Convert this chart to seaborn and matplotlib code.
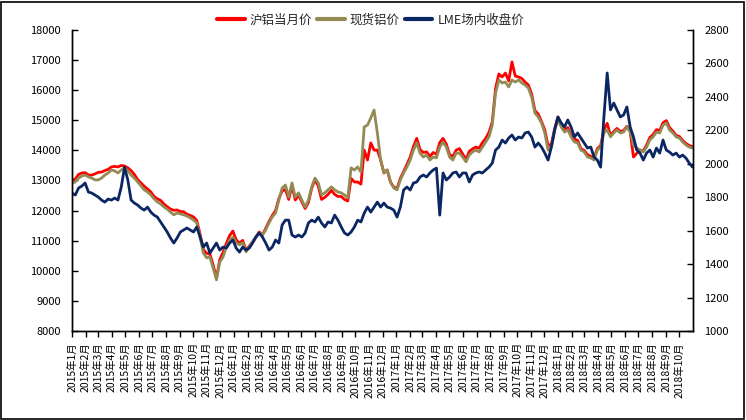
import numpy as np
import pandas as pd
import matplotlib
matplotlib.use('Agg')
import matplotlib.pyplot as plt
import seaborn as sns
from matplotlib.lines import Line2D
from matplotlib.patches import Rectangle

# ---------------- data ----------------
series_names = ['沪铝当月价', '现货铝价', 'LME场内收盘价']

shfe = [13000,13050,13200,13250,13260,13180,13180,13220,13270,13280,13330,13370,13450,13470,13450,13500,13480,13420,13330,13200,13030,12920,12810,12720,12620,12470,12390,12340,12220,12130,12050,12010,
        12020,11970,11960,11880,11840,11790,11670,11220,10710,10580,10560,10190,9750,10370,10610,10910,11170,11320,11030,10920,11010,10680,10820,10960,11120,11290,11190,11410,11640,11840,12000,12400,
        12650,12700,12370,12820,12350,12510,12290,12070,12270,12740,13020,12820,12370,12440,12540,12670,12540,12470,12470,12370,12320,13070,12950,12950,12880,14010,13680,14250,14010,14010,13680,13250,
        13350,12950,12780,12740,13070,13300,13530,13780,14130,14400,14030,13930,13950,13800,13930,13870,14260,14400,14210,13860,13800,14010,14060,13880,13700,13970,14050,14110,14070,14260,14400,14600,
        14940,16060,16540,16440,16570,16310,16940,16470,16440,16390,16270,16170,15870,15320,15210,14960,14680,14160,14210,14730,15110,14830,14660,14760,14500,14380,14330,14060,14000,13860,13800,13760,
        14060,14160,14680,14900,14500,14630,14730,14630,14660,14800,14620,13780,13900,14010,13980,14180,14430,14530,14690,14660,14920,14990,14760,14640,14500,14460,14330,14230,14160,14130]

spot = [12920,12950,13080,13150,13180,13120,13080,13020,13020,13080,13180,13250,13350,13320,13250,13350,13420,13320,13180,13080,12950,12820,12690,12620,12520,12390,12290,12220,12120,12050,11950,11860,
        11920,11890,11860,11820,11760,11690,11590,11120,10590,10430,10460,10090,9700,10290,10460,10790,11020,11120,10930,10860,10930,10630,10790,10960,11120,11260,11190,11360,11590,11790,11920,12350,
        12750,12850,12450,12920,12450,12590,12350,12120,12350,12790,13080,12920,12520,12590,12690,12790,12690,12620,12590,12520,12420,13420,13350,13450,13280,14780,14840,15080,15340,14580,13680,13250,
        13350,12950,12750,12690,13020,13250,13450,13680,14010,14250,13910,13780,13850,13680,13780,13750,14110,14280,14110,13780,13680,13910,13910,13780,13620,13850,13950,14010,13950,14110,14280,14450,
        14840,15910,16340,16240,16270,16110,16340,16270,16340,16240,16170,16070,15770,15240,15110,14910,14580,14010,14110,14680,15010,14780,14610,14680,14450,14280,14250,14010,13950,13780,13750,13680,
        14010,14110,14580,14680,14450,14580,14680,14580,14610,14780,14610,14180,14080,14010,13950,14110,14350,14450,14610,14580,14840,14910,14680,14580,14450,14410,14280,14180,14110,14080]

lme = [1825,1813,1855,1867,1885,1831,1825,1813,1801,1783,1771,1789,1783,1795,1783,1861,1980,1903,1783,1765,1753,1735,1723,1741,1711,1693,1681,1652,1622,1592,1556,1526,
       1556,1592,1604,1616,1604,1592,1622,1562,1502,1526,1466,1496,1526,1484,1502,1496,1526,1544,1496,1472,1502,1484,1496,1526,1562,1586,1562,1526,1484,1502,1544,1526,
       1634,1663,1663,1574,1562,1574,1562,1586,1646,1663,1652,1681,1646,1622,1652,1646,1693,1663,1622,1586,1574,1592,1622,1663,1652,1705,1741,1711,1741,1771,1741,1765,
       1741,1735,1723,1681,1741,1843,1861,1843,1885,1891,1921,1933,1921,1945,1963,1974,1693,1945,1903,1921,1945,1951,1921,1945,1945,1891,1933,1945,1951,1945,1963,1980,
       2004,2082,2100,2142,2124,2154,2172,2142,2160,2154,2184,2190,2160,2100,2124,2100,2064,2022,2100,2202,2280,2244,2220,2262,2220,2160,2184,2154,2124,2094,2100,2040,
       2022,1980,2280,2543,2322,2363,2322,2280,2292,2340,2220,2160,2082,2064,2022,2064,2082,2040,2094,2064,2142,2082,2070,2052,2064,2040,2052,2034,2004,1980]

month_starts = pd.date_range('2015-01-01', '2018-10-01', freq='MS')
tick_labels = [f'{d.year}年{d.month}月' for d in month_starts]
left_ticks = list(range(8000, 18001, 1000))
right_ticks = list(range(1000, 2801, 200))

dates = pd.date_range('2015-01-01', '2018-10-31', periods=len(spot))
df = pd.DataFrame({'date': dates, 'shfe': shfe, 'spot': spot, 'lme': lme})

# ---------------- style ----------------
sns.set_theme(style='white')
plt.rcParams['font.family'] = ['Noto Sans CJK SC', 'DejaVu Sans']

RED = '#FF0000'
OLIVE = '#948A54'
NAVY = '#0B2763'

fig = plt.figure(figsize=(7.46, 4.2), dpi=100)
ax = fig.add_axes([72/746, 1-331/420, (693-72)/746, (331-30)/420])

sns.lineplot(data=df, x='date', y='shfe', ax=ax, color=RED, linewidth=2.0)
sns.lineplot(data=df, x='date', y='spot', ax=ax, color=OLIVE, linewidth=2.0)
ax2 = ax.twinx()
sns.lineplot(data=df, x='date', y='lme', ax=ax2, color=NAVY, linewidth=2.0)

ax.set_xlim(pd.Timestamp('2015-01-01'), pd.Timestamp('2018-11-01'))
ax.set_ylim(8000, 18000)
ax2.set_ylim(1000, 2800)
ax.set_yticks(left_ticks)
ax.set_yticklabels([str(v) for v in left_ticks], fontsize=8)
ax2.set_yticks(right_ticks)
ax2.set_yticklabels([str(v) for v in right_ticks], fontsize=8)
ax.set_xticks(month_starts)
ax.set_xticklabels(tick_labels, rotation=90, fontsize=7.5, ha='center', va='top')
for a in (ax, ax2):
    a.set_xlabel('')
    a.set_ylabel('')
    a.spines['top'].set_visible(False)
    for s in ('left', 'right', 'bottom'):
        a.spines[s].set_color('black')
        a.spines[s].set_linewidth(1.0)

ax.tick_params(axis='x', bottom=True, direction='out', length=4, width=1, color='black', pad=4, colors='black')
ax.tick_params(axis='y', left=True, direction='in', length=4, width=1, color='black', pad=8, labelcolor='black')
ax2.tick_params(axis='y', right=True, direction='in', length=4, width=1, color='black', pad=8, labelcolor='black')

handles = [Line2D([], [], color=RED, lw=3),
           Line2D([], [], color=OLIVE, lw=3),
           Line2D([], [], color=NAVY, lw=3)]
fig.legend(handles, series_names, loc='center', bbox_to_anchor=(0.497, 0.952), ncol=3,
           frameon=False, fontsize=9, handlelength=2.2, columnspacing=0.4, handletextpad=0.4)

fig.patches.append(Rectangle((0.002, 0.003), 0.995, 0.993, transform=fig.transFigure,
                             fill=False, edgecolor='black', linewidth=1.2))

fig.savefig('out.png', dpi=100)
